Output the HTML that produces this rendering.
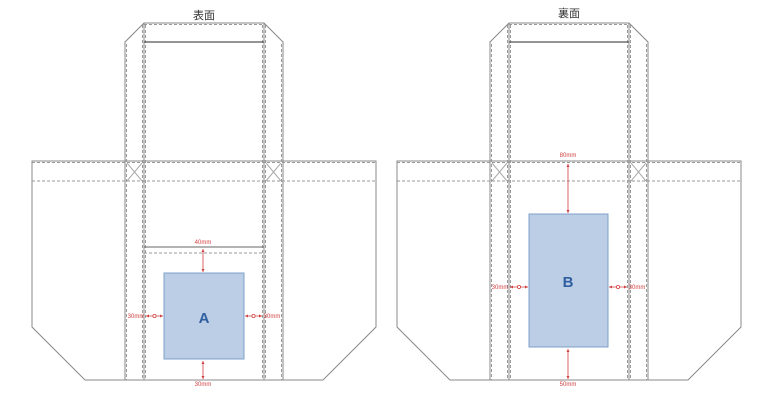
<!DOCTYPE html>
<html><head><meta charset="utf-8"><style>
html,body{margin:0;padding:0;background:#fff;}
svg{display:block;}
text{font-family:"Liberation Sans","Noto Sans CJK JP",sans-serif;}
</style></head><body>
<svg width="768" height="401" viewBox="0 0 768 401" xmlns="http://www.w3.org/2000/svg">
<defs>
<marker id="ah" viewBox="0 0 6 6" refX="6" refY="3" markerWidth="4" markerHeight="4" orient="auto-start-reverse"><path d="M0,0 L6,3 L0,6 Z" fill="#d04040"/></marker>
<g id="bag" fill="none" stroke="#888" stroke-width="1">
  <path d="M32,161 H376 V327 L323,380 H85 L32,327 Z"/>
  <path d="M125,380 V42 L144,23 H264 L283,42 V380"/>
  <line x1="144" y1="23" x2="144" y2="380"/>
  <line x1="264" y1="23" x2="264" y2="380"/>
  <g stroke-dasharray="3,2" stroke="#999">
    <line x1="126.5" y1="44" x2="126.5" y2="380"/>
    <line x1="142.5" y1="25" x2="142.5" y2="380"/>
    <line x1="145.5" y1="25" x2="145.5" y2="380"/>
    <line x1="262.5" y1="25" x2="262.5" y2="380"/>
    <line x1="265.5" y1="25" x2="265.5" y2="380"/>
    <line x1="281.5" y1="44" x2="281.5" y2="380"/>
    <line x1="144" y1="24.5" x2="264" y2="24.5"/>
    <line x1="32" y1="162.5" x2="376" y2="162.5"/>
    <line x1="32" y1="181" x2="376" y2="181"/>
  </g>
  <path d="M127,163 L142,181 M142,163 L127,181 M266,163 L281,181 M281,163 L266,181" stroke="#aaa"/>
</g>
</defs>
<use href="#bag"/>
<use href="#bag" transform="translate(365,0)"/>
<text x="204" y="19" font-size="11" text-anchor="middle" fill="#333">表面</text>
<text x="569" y="17" font-size="11" text-anchor="middle" fill="#333">裏面</text>

<line x1="144" y1="42" x2="264" y2="42" stroke="#555" stroke-width="1.2"/>
<line x1="144" y1="247" x2="264" y2="247" stroke="#666"/>
<line x1="144" y1="253" x2="264" y2="253" stroke="#999" stroke-dasharray="3,2"/>
<rect x="164" y="273" width="80" height="86" fill="#bccde6" stroke="#7ea0c8"/>
<text x="204" y="323" font-size="15" font-weight="bold" text-anchor="middle" fill="#2f5f9e">A</text>
<g stroke="#d04040" stroke-width="0.8" fill="none">
  <line x1="203" y1="249" x2="203" y2="272" marker-start="url(#ah)" marker-end="url(#ah)"/>
  <line x1="203" y1="361" x2="203" y2="379" marker-start="url(#ah)" marker-end="url(#ah)"/>
  <line x1="146" y1="316" x2="163" y2="316" marker-start="url(#ah)" marker-end="url(#ah)"/>
  <line x1="245" y1="316" x2="262" y2="316" marker-start="url(#ah)" marker-end="url(#ah)"/>
  <circle cx="154.5" cy="316" r="1.6" fill="#fff"/>
  <circle cx="253.5" cy="316" r="1.6" fill="#fff"/>
</g>
<g font-size="6" fill="#d04040" text-anchor="middle">
  <text x="203" y="244">40mm</text>
  <text x="203" y="386">30mm</text>
  <text x="136" y="318">30mm</text>
  <text x="272" y="318">30mm</text>
</g>

<line x1="509" y1="42" x2="629" y2="42" stroke="#555" stroke-width="1.2"/>
<rect x="529" y="214" width="79" height="133" fill="#bccde6" stroke="#7ea0c8"/>
<text x="568" y="287" font-size="15" font-weight="bold" text-anchor="middle" fill="#2f5f9e">B</text>
<g stroke="#d04040" stroke-width="0.8" fill="none">
  <line x1="568" y1="164" x2="568" y2="213" marker-start="url(#ah)" marker-end="url(#ah)"/>
  <line x1="568" y1="349" x2="568" y2="379" marker-start="url(#ah)" marker-end="url(#ah)"/>
  <line x1="510" y1="287" x2="528" y2="287" marker-start="url(#ah)" marker-end="url(#ah)"/>
  <line x1="609" y1="287" x2="627" y2="287" marker-start="url(#ah)" marker-end="url(#ah)"/>
  <circle cx="519" cy="287" r="1.6" fill="#fff"/>
  <circle cx="618" cy="287" r="1.6" fill="#fff"/>
</g>
<g font-size="6" fill="#d04040" text-anchor="middle">
  <text x="568" y="157">80mm</text>
  <text x="568" y="386">50mm</text>
  <text x="500" y="289">30mm</text>
  <text x="637" y="289">30mm</text>
</g>
</svg>
</body></html>
